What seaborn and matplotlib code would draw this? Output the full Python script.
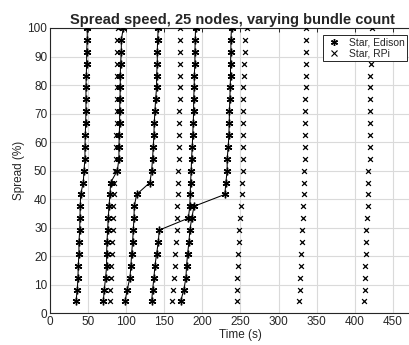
import matplotlib
matplotlib.use("Agg")
import matplotlib.pyplot as plt
from matplotlib.lines import Line2D
import seaborn as sns
import pandas as pd

# Spread levels (% of 25 nodes reached, 24 receiving nodes)
spread = [4.17, 8.33, 12.5, 16.67, 20.83, 25.0, 29.17, 33.33, 37.5, 41.67, 45.83, 50.0,
          54.17, 58.33, 62.5, 66.67, 70.83, 75.0, 79.17, 83.33, 87.5, 91.67, 95.83, 100.0]

# Star, Edison runs (time in s for each spread level)
edison_a = [34.1, 35.8, 36.7, 37.1, 38.0, 38.0, 39.0, 39.3, 39.7, 40.2, 43.7, 44.6,
            45.9, 45.9, 46.3, 46.8, 47.2, 47.2, 47.2, 47.6, 48.1, 48.1, 48.9, 48.9]
edison_b = [70.0, 71.2, 73.0, 74.3, 74.3, 74.8, 75.6, 76.5, 77.4, 78.7, 79.6, 88.3,
            90.5, 90.5, 90.9, 91.4, 91.4, 91.8, 92.2, 92.2, 92.7, 93.6, 93.6, 96.2]
edison_c = [98.4, 101.4, 104.9, 106.2, 107.1, 108.4, 109.3, 110.2, 110.6, 113.7, 131.1, 133.4,
            134.6, 135.5, 136.4, 136.8, 137.7, 138.6, 139.9, 139.9, 140.8, 140.8, 141.2, 142.1]
edison_d = [133.4, 134.7, 136.4, 137.7, 139.9, 142.1, 143.4, 181.5, 183.5, 184.0, 184.5, 185.3,
            185.8, 186.7, 187.3, 188.0, 188.5, 188.5, 189.3, 189.3, 190.2, 190.2, 190.6, 191.0]
edison_e = [171.4, 175.7, 178.4, 179.2, 180.6, 182.3, 183.6, 186.0, 189.0, 229.5, 230.8, 232.5,
            232.5, 233.9, 234.8, 235.2, 235.5, 236.0, 236.5, 236.9, 236.9, 237.4, 237.4, 238.2]

# Star, RPi runs
rpi_a = [78.5, 78.7, 79.6, 80.0, 80.9, 81.7, 82.2, 83.0, 83.2, 83.5, 84.3, 85.2,
         86.6, 87.0, 87.2, 87.5, 87.5, 87.8, 87.8, 88.0, 88.0, 88.3, 88.5, 89.6]
rpi_b = [160.4, 160.9, 162.6, 163.9, 163.9, 164.8, 166.1, 166.1, 167.0, 168.3, 168.3, 168.3,
         169.2, 169.2, 169.6, 169.6, 169.6, 170.0, 170.0, 170.0, 170.4, 170.4, 170.4, 170.6]
rpi_c = [244.8, 244.8, 245.7, 246.1, 247.0, 247.9, 248.3, 249.2, 250.5, 251.4, 252.2, 252.7,
         253.0, 253.0, 253.5, 253.5, 253.5, 253.5, 253.5, 254.0, 254.4, 255.7, 255.7, 258.0]
rpi_d = [326.6, 327.9, 327.9, 328.8, 329.2, 330.1, 331.0, 331.4, 332.3, 333.1, 333.1, 333.6,
         334.4, 334.4, 334.8, 334.8, 335.3, 335.3, 335.7, 335.7, 335.7, 335.7, 336.1, 336.1]
rpi_e = [412.2, 413.1, 413.1, 414.0, 414.5, 415.3, 415.3, 416.2, 417.5, 417.5, 417.5, 417.5,
         419.7, 419.7, 419.7, 420.6, 420.6, 420.6, 420.6, 420.6, 421.9, 422.3, 422.8, 423.2]

x_ticks = [0, 50, 100, 150, 200, 250, 300, 350, 400, 450]
y_ticks = [0, 10, 20, 30, 40, 50, 60, 70, 80, 90, 100]

title = "Spread speed, 25 nodes, varying bundle count"
labels = ["Star, Edison", "Star, RPi"]

def long_frame(runs):
    rows = []
    for i, r in enumerate(runs):
        for t, s in zip(r, spread):
            rows.append({"time": t, "spread": s, "run": i})
    return pd.DataFrame(rows)

ed = long_frame([edison_a, edison_b, edison_c, edison_d, edison_e])
rp = long_frame([rpi_a, rpi_b, rpi_c, rpi_d, rpi_e])

sns.set_style("white")
plt.rcParams["font.family"] = ["Liberation Sans", "DejaVu Sans"]

fig = plt.figure(figsize=(4.1, 3.45), dpi=100)
ax = fig.add_axes([50 / 410, 1 - 313.3 / 345, 381 / 410, 285.3 / 345])

ast = (6, 2, 0)
sns.lineplot(data=ed, x="time", y="spread", units="run", estimator=None, sort=False,
             color="k", lw=0.75, marker=ast, markersize=5.5, mec="k", mew=1.0,
             legend=False, ax=ax, zorder=3)
sns.scatterplot(data=rp, x="time", y="spread", marker="x", color="k", s=12,
                linewidth=0.9, legend=False, ax=ax, zorder=3)

ax.set_xlim(0, 500)
ax.set_ylim(0, 100)
ax.set_xticks(x_ticks)
ax.set_yticks(y_ticks)
ax.grid(True, color="#dadada", lw=0.8)
ax.set_axisbelow(True)
ax.tick_params(direction="in", length=3, width=0.7, top=True, right=True,
               labelsize=8.5, colors="#262626", pad=2)
for sp in ax.spines.values():
    sp.set_color("#262626")
    sp.set_linewidth(0.8)
ax.set_xlabel("Time (s)", fontsize=8.5, color="#262626", labelpad=1)
ax.set_ylabel("Spread (%)", fontsize=8.5, color="#262626", labelpad=2)
ax.set_title(title, fontsize=10.5, fontweight="bold", x=0.478, pad=3)

handles = [Line2D([], [], marker=ast, ls="none", color="k", mec="k", ms=5, mew=1.0),
           Line2D([], [], marker="x", ls="none", color="k", ms=4, mew=0.8)]
leg = ax.legend(handles, labels, loc="upper right", bbox_to_anchor=(0.937, 0.975),
                borderaxespad=0, fontsize=7.5, frameon=True, fancybox=False,
                handlelength=1.6, handletextpad=0.6, labelspacing=0.1,
                borderpad=0.25, edgecolor="#262626", framealpha=1)
leg.get_frame().set_linewidth(0.7)
leg.set_zorder(10)

fig.savefig("out.png", dpi=100)
